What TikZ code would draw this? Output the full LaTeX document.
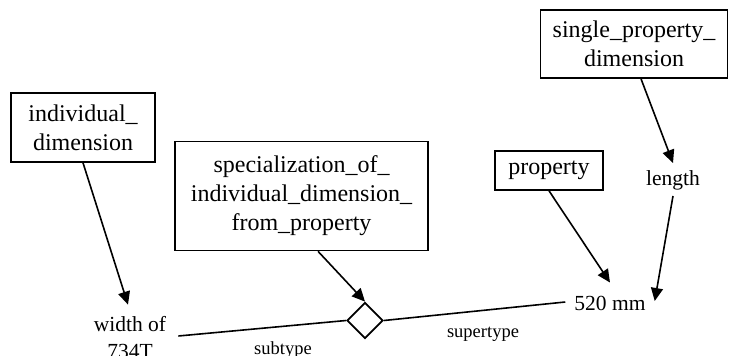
\documentclass[tikz,border=0pt]{standalone}
\usepackage{fontspec}
\setmainfont{Liberation Serif}
\usetikzlibrary{arrows.meta,shapes.geometric}
\begin{document}
\begin{tikzpicture}[x=1pt,y=-1pt,
  entity/.style={draw,line width=1.6pt,inner sep=0pt,align=center,
    font=\fontsize{24}{29}\selectfont},
  value/.style={inner sep=0pt,align=center,font=\fontsize{21.5}{27}\selectfont},
  role/.style={inner sep=0pt,font=\fontsize{18.5}{22}\selectfont},
  link/.style={line width=1.6pt,-{Triangle[length=13pt,width=12pt]}},
  plain/.style={line width=1.6pt},
  relation/.style={diamond,draw,line width=1.8pt,inner sep=0pt,
    minimum width=36pt,minimum height=36pt}]
\useasboundingbox (0,0) rectangle (729,356);

% entity types
\node[entity,minimum width=144pt,minimum height=69pt] (idim) at (83,127.5)
  {individual\_\\dimension};
\node[entity,minimum width=253pt,minimum height=109pt] (spec) at (301.5,196)
  {specialization\_of\_\\individual\_dimension\_\\from\_property};
\node[entity,minimum width=187pt,minimum height=68pt] (spd) at (634,44)
  {single\_property\_\\dimension};
\node[entity,minimum width=108pt,minimum height=39pt] (prop) at (549,170.5)
  {property};

% instances
\node[value] (width) at (130,338) {width of\\734T};
\node[value] (length) at (673,180) {length};
\node[value] (mm) at (610,303) {520 mm};

% relation and its roles
\node[relation] (rel) at (365,320.5) {};
\node[role] (sub) at (283,350) {subtype};
\node[role] (sup) at (483,334) {supertype};

% classification arrows
\draw[link] (idim.south) -- ([shift={(-2,-12)}]width.north);
\draw[link] ([shift={(16.5,0)}]spec.south) -- (rel.north);
\draw[link] (prop.south) -- ([shift={(0,-13)}]mm.north);
\draw[link] ([shift={(7,0)}]spd.south) -- ([shift={(0,-7)}]length.north);
\draw[link] ([shift={(0,6)}]length.south) -- ([shift={(9,-2)}]mm.east);

% relation legs
\draw[plain] (rel.west) -- ([shift={(12,-2)}]width.east);
\draw[plain] (rel.east) -- ([shift={(-9,-1)}]mm.west);
\end{tikzpicture}
\end{document}
